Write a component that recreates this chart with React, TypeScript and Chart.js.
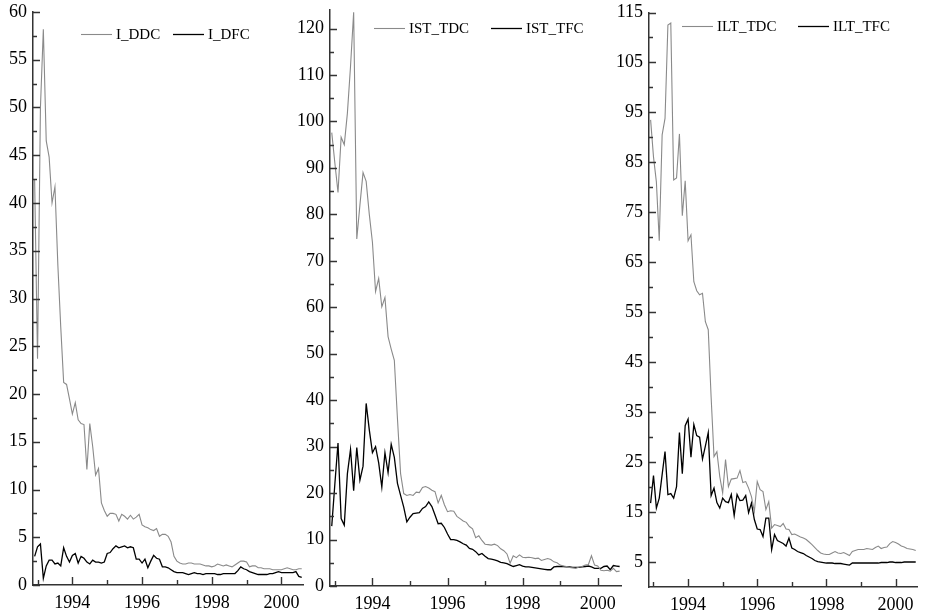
import React, { useEffect, useRef } from "react";
import { Chart, registerables } from "chart.js";

Chart.register(...registerables);

// ---- time axis: monthly observations, Dec 1992 .. Aug 2000 ----
const START_YEAR = 1992;
const START_MONTH = 12;

// ---- tick labels ----
const X_MAJOR = [1994, 1996, 1998, 2000];
const X_MINOR = [1993, 1995, 1997, 1999];

const Y1_TICKS = [0, 5, 10, 15, 20, 25, 30, 35, 40, 45, 50, 55, 60];
const Y1_MINOR = [2.5, 7.5, 12.5, 17.5, 22.5, 27.5, 32.5, 37.5, 42.5, 47.5, 52.5, 57.5];
const Y2_TICKS = [0, 10, 20, 30, 40, 50, 60, 70, 80, 90, 100, 110, 120];
const Y2_MINOR = [5, 15, 25, 35, 45, 55, 65, 75, 85, 95, 105, 115];
const Y3_TICKS = [5, 15, 25, 35, 45, 55, 65, 75, 85, 95, 105, 115];
const Y3_MINOR = [10, 20, 30, 40, 50, 60, 70, 80, 90, 100, 110];

// ---- series ----
const I_DDC = [
  42.4, 23.7, 50.0, 58.2, 46.5, 44.8, 40.0, 41.7, 33.5, 27.0,
  21.2, 21.0, 19.5, 17.9, 19.1, 17.3, 16.9, 16.8, 12.1, 16.9,
  14.5, 11.5, 12.2, 8.6, 7.8, 7.2, 7.5, 7.5, 7.4, 6.7,
  7.4, 7.2, 6.9, 7.3, 6.9, 7.1, 7.4, 6.3, 6.1, 6.0,
  5.8, 5.7, 5.9, 5.1, 5.3, 5.3, 5.1, 4.5, 3.0, 2.5,
  2.3, 2.2, 2.2, 2.3, 2.3, 2.2, 2.2, 2.2, 2.1, 2.0,
  2.0, 1.9, 2.0, 2.2, 2.1, 2.0, 2.1, 2.0, 1.9, 2.1,
  2.3, 2.5, 2.5, 2.4, 1.9, 2.0, 2.0, 1.8, 1.8, 1.7,
  1.7, 1.7, 1.6, 1.6, 1.6, 1.6, 1.7, 1.8, 1.7, 1.6,
  1.6, 1.7, 1.7,
];
const I_DFC = [
  3.0, 4.0, 4.3, 0.7, 2.0, 2.6, 2.6, 2.2, 2.3, 2.0,
  3.9, 3.0, 2.4, 3.1, 3.3, 2.3, 3.0, 2.8, 2.4, 2.2,
  2.6, 2.4, 2.4, 2.3, 2.4, 3.3, 3.4, 3.8, 4.1, 3.9,
  4.0, 4.1, 3.9, 4.0, 3.9, 2.7, 2.7, 2.3, 2.7, 1.8,
  2.5, 3.1, 2.8, 2.7, 1.9, 1.9, 1.8, 1.6, 1.4, 1.3,
  1.3, 1.3, 1.2, 1.1, 1.2, 1.3, 1.2, 1.2, 1.1, 1.2,
  1.2, 1.2, 1.2, 1.1, 1.1, 1.2, 1.2, 1.2, 1.2, 1.2,
  1.5, 1.9, 1.7, 1.6, 1.4, 1.3, 1.2, 1.1, 1.1, 1.1,
  1.1, 1.2, 1.2, 1.3, 1.4, 1.3, 1.3, 1.3, 1.3, 1.3,
  1.4, 0.9, 0.8,
];
const IST_TDC = [
  97.6, 91.0, 84.7, 96.6, 95.0, 101.8, 111.9, 123.5, 74.7, 82.0,
  89.0, 87.1, 80.0, 74.0, 63.4, 66.2, 60.1, 62.1, 53.7, 51.0,
  48.6, 36.0, 24.2, 19.9, 19.5, 19.7, 19.5, 20.2, 20.1, 21.2,
  21.4, 21.1, 20.6, 20.3, 17.9, 19.5, 17.5, 16.0, 16.2, 16.1,
  15.0, 14.5, 14.0, 13.7, 12.8, 12.3, 10.4, 10.8, 9.8, 9.0,
  8.9, 8.8, 9.0, 8.7, 8.0, 7.6, 6.9, 4.9, 6.5, 6.1,
  6.7, 6.2, 6.1, 6.2, 6.1, 5.9, 6.0, 5.5, 5.7, 5.9,
  5.7, 5.2, 5.0, 4.5, 4.3, 4.2, 4.0, 3.9, 3.8, 4.1,
  4.2, 4.5, 4.6, 6.5, 4.5, 4.3, 3.4, 3.3, 3.4, 3.2,
  3.8, 3.1, 3.2,
];
const IST_TFC = [
  12.9, 22.0, 30.8, 14.5, 13.1, 24.2, 29.4, 20.5, 29.8, 22.8,
  25.8, 39.3, 33.6, 28.7, 30.0, 26.5, 21.3, 28.7, 24.4, 30.5,
  27.7, 22.1, 19.5, 17.0, 13.8, 14.8, 15.6, 15.7, 15.8, 16.7,
  17.1, 18.1, 17.1, 15.3, 13.4, 13.5, 12.6, 11.2, 10.0, 10.0,
  9.8, 9.5, 9.1, 8.8, 8.1, 7.9, 7.4, 6.7, 7.0, 6.4,
  5.9, 5.8, 5.6, 5.4, 5.1, 5.0, 4.8, 4.5, 4.2, 4.4,
  4.6, 4.3, 4.1, 4.1, 4.0, 3.9, 3.8, 3.7, 3.6, 3.5,
  3.5, 4.1, 4.2, 4.2, 4.2, 4.1, 4.1, 4.0, 4.0, 4.0,
  4.1, 4.2, 4.3, 4.1, 3.8, 3.8, 3.8, 4.2, 4.3, 3.5,
  4.4, 4.3, 4.2,
];
const ILT_TDC = [
  93.5, 86.1, 81.1, 69.3, 90.5, 93.8, 112.5, 112.9, 81.5, 81.9,
  90.7, 74.3, 81.3, 69.3, 70.5, 61.1, 59.3, 58.5, 58.8, 53.1,
  51.5, 38.0, 26.1, 27.1, 22.1, 18.8, 25.5, 20.1, 21.6, 21.7,
  21.8, 23.3, 20.9, 21.1, 19.8, 18.1, 15.1, 21.1, 19.5, 19.1,
  15.5, 17.1, 11.8, 12.5, 12.3, 12.1, 12.7, 11.6, 11.5, 10.5,
  10.6, 10.3, 10.0, 9.8, 9.5, 9.0, 8.5, 7.9, 7.3, 6.8,
  6.6, 6.5, 6.5, 6.8, 7.1, 6.8, 6.7, 6.9, 6.6, 6.3,
  7.1, 7.3, 7.5, 7.5, 7.5, 7.7, 7.6, 7.5, 7.9, 8.2,
  7.7, 7.9, 8.0, 8.7, 9.1, 8.9, 8.6, 8.2, 8.0, 7.7,
  7.6, 7.5, 7.3,
];
const ILT_TFC = [
  16.8, 22.3, 15.8, 17.8, 22.5, 27.1, 18.5, 18.7, 17.8, 20.1,
  30.9, 22.7, 32.3, 33.6, 26.0, 32.5, 30.3, 30.0, 25.6, 28.2,
  30.9, 18.3, 19.8, 16.9, 15.8, 17.8, 17.1, 16.9, 18.5, 14.3,
  18.5, 17.3, 17.4, 18.3, 14.9, 16.8, 13.5, 11.6, 11.5, 10.1,
  13.8, 13.8, 7.5, 10.5, 9.3, 9.0, 8.7, 8.2, 9.8, 7.8,
  7.5, 7.1, 6.9, 6.7, 6.3, 6.0, 5.7, 5.3, 5.1, 5.0,
  4.9, 4.8, 4.8, 4.8, 4.7, 4.7, 4.7, 4.6, 4.5, 4.4,
  4.8, 4.8, 4.8, 4.8, 4.8, 4.8, 4.8, 4.8, 4.8, 4.8,
  4.9, 4.9, 4.9, 5.0, 5.0, 4.9, 4.9, 4.9, 5.0, 5.0,
  5.0, 5.0, 5.0,
];

const MONTHS = I_DDC.map((_, i) => START_YEAR + (START_MONTH - 1 + i) / 12);

// ---- styles ----
const GREY = "#8a8a8a";
const BLACK = "#000000";
const AXIS = "#333333";
const FONT = '"Liberation Serif", "Times New Roman", serif';
const H = 614;

type PanelCfg = {
  names: [string, string];
  series: [number[], number[]];
  yMin: number;
  yMax: number;
  yTicks: number[];
  yMinor: number[];
  canvasLeft: number;
  canvasWidth: number;
  area: { left: number; right: number; top: number; bottom: number };
  legendY: number;
  legendX: [number, number];
};

const PANELS: PanelCfg[] = [
  {
    names: ["I_DDC", "I_DFC"],
    series: [I_DDC, I_DFC],
    yMin: 0, yMax: 60, yTicks: Y1_TICKS, yMinor: Y1_MINOR,
    canvasLeft: 0, canvasWidth: 310,
    area: { left: 33, right: 303, top: 12, bottom: 585 },
    legendY: 34, legendX: [81, 173],
  },
  {
    names: ["IST_TDC", "IST_TFC"],
    series: [IST_TDC, IST_TFC],
    yMin: 0, yMax: 124, yTicks: Y2_TICKS, yMinor: Y2_MINOR,
    canvasLeft: 292, canvasWidth: 333,
    area: { left: 330, right: 621, top: 10, bottom: 586 },
    legendY: 28, legendX: [374, 491],
  },
  {
    names: ["ILT_TDC", "ILT_TFC"],
    series: [ILT_TDC, ILT_TFC],
    yMin: 0, yMax: 115, yTicks: Y3_TICKS, yMinor: Y3_MINOR,
    canvasLeft: 608, canvasWidth: 317,
    area: { left: 649, right: 917, top: 12.5, bottom: 587 },
    legendY: 26, legendX: [682, 798],
  },
];

function makeDecor(cfg: PanelCfg) {
  return {
    id: "decor",
    afterDraw(chart: any) {
      const { ctx, chartArea: ca, scales } = chart;
      const xs = scales.x;
      const ys = scales.y;
      ctx.save();
      ctx.strokeStyle = AXIS;
      ctx.lineWidth = 1.4;
      ctx.beginPath();
      const yTick = (v: number, len: number) => {
        const p = Math.round(ys.getPixelForValue(v)) + 0.5;
        ctx.moveTo(ca.left, p);
        ctx.lineTo(ca.left + len, p);
      };
      const xTick = (v: number, len: number) => {
        const p = Math.round(xs.getPixelForValue(v)) + 0.5;
        ctx.moveTo(p, ca.bottom);
        ctx.lineTo(p, ca.bottom - len);
      };
      cfg.yTicks.forEach((v) => yTick(v, 7));
      cfg.yMinor.forEach((v) => yTick(v, 4));
      X_MAJOR.forEach((v) => xTick(v, 8));
      X_MINOR.forEach((v) => xTick(v, 5));
      ctx.stroke();

      // legend
      const off = cfg.canvasLeft;
      const items = [
        { x: cfg.legendX[0] - off, color: GREY, w: 1.1, name: cfg.names[0] },
        { x: cfg.legendX[1] - off, color: BLACK, w: 1.3, name: cfg.names[1] },
      ];
      ctx.font = `15px ${FONT}`;
      ctx.textBaseline = "middle";
      ctx.textAlign = "left";
      items.forEach((it) => {
        ctx.strokeStyle = it.color;
        ctx.lineWidth = it.w;
        ctx.beginPath();
        ctx.moveTo(it.x, cfg.legendY + 0.5);
        ctx.lineTo(it.x + 31, cfg.legendY + 0.5);
        ctx.stroke();
        ctx.fillStyle = "#000";
        ctx.fillText(it.name, it.x + 35, cfg.legendY + 1);
      });
      ctx.restore();
    },
  };
}

function Panel({ cfg }: { cfg: PanelCfg }) {
  const ref = useRef<HTMLCanvasElement | null>(null);
  useEffect(() => {
    if (!ref.current) return;
    const a = cfg.area;
    const chart = new Chart(ref.current, {
      type: "line",
      data: {
        datasets: [
          {
            label: cfg.names[0],
            data: MONTHS.map((m, i) => ({ x: m, y: cfg.series[0][i] })),
            borderColor: GREY,
            borderWidth: 1.1,
            pointRadius: 0,
            tension: 0,
            fill: false,
          },
          {
            label: cfg.names[1],
            data: MONTHS.map((m, i) => ({ x: m, y: cfg.series[1][i] })),
            borderColor: BLACK,
            borderWidth: 1.3,
            pointRadius: 0,
            tension: 0,
            fill: false,
          },
        ],
      },
      options: {
        responsive: false,
        animation: false,
        events: [],
        layout: {
          padding: {
            left: 0,
            top: a.top,
            right: cfg.canvasLeft + cfg.canvasWidth - a.right,
            bottom: 0,
          },
        },
        plugins: {
          legend: { display: false },
          tooltip: { enabled: false },
        },
        scales: {
          x: {
            type: "linear",
            min: 1992.87,
            max: 2000.62,
            grid: { display: true, drawOnChartArea: false, drawTicks: false },
            border: { display: true, color: AXIS, width: 1.5 },
            afterBuildTicks: (s: any) => {
              s.ticks = X_MAJOR.map((v) => ({ value: v }));
            },
            afterFit: (s: any) => {
              s.height = H - a.bottom;
              s.paddingLeft = 0;
              s.paddingRight = 0;
            },
            ticks: {
              autoSkip: false,
              maxRotation: 0,
              padding: 7,
              color: "#000",
              font: { family: FONT, size: 18 },
              callback: (v: any) => String(v),
            },
          },
          y: {
            type: "linear",
            min: cfg.yMin,
            max: cfg.yMax,
            grid: { display: true, drawOnChartArea: false, drawTicks: false },
            border: { display: true, color: AXIS, width: 1.5 },
            afterBuildTicks: (s: any) => {
              s.ticks = cfg.yTicks.map((v) => ({ value: v }));
            },
            afterFit: (s: any) => {
              s.width = a.left - cfg.canvasLeft;
              s.paddingTop = 0;
              s.paddingBottom = 0;
            },
            ticks: {
              padding: 6,
              color: "#000",
              font: { family: FONT, size: 18 },
              callback: (v: any) => String(v),
            },
          },
        },
      } as any,
      plugins: [makeDecor(cfg)],
    });
    return () => chart.destroy();
  }, [cfg]);
  return (
    <canvas
      ref={ref}
      width={cfg.canvasWidth}
      height={H}
      style={{
        position: "absolute",
        left: cfg.canvasLeft,
        top: 0,
        width: cfg.canvasWidth,
        height: H,
      }}
    />
  );
}

export default function App() {
  return (
    <div
      style={{
        position: "fixed",
        left: 0,
        top: 0,
        width: 925,
        height: H,
        background: "#fff",
        overflow: "hidden",
      }}
    >
      {PANELS.map((p) => (
        <Panel key={p.names[0]} cfg={p} />
      ))}
    </div>
  );
}
